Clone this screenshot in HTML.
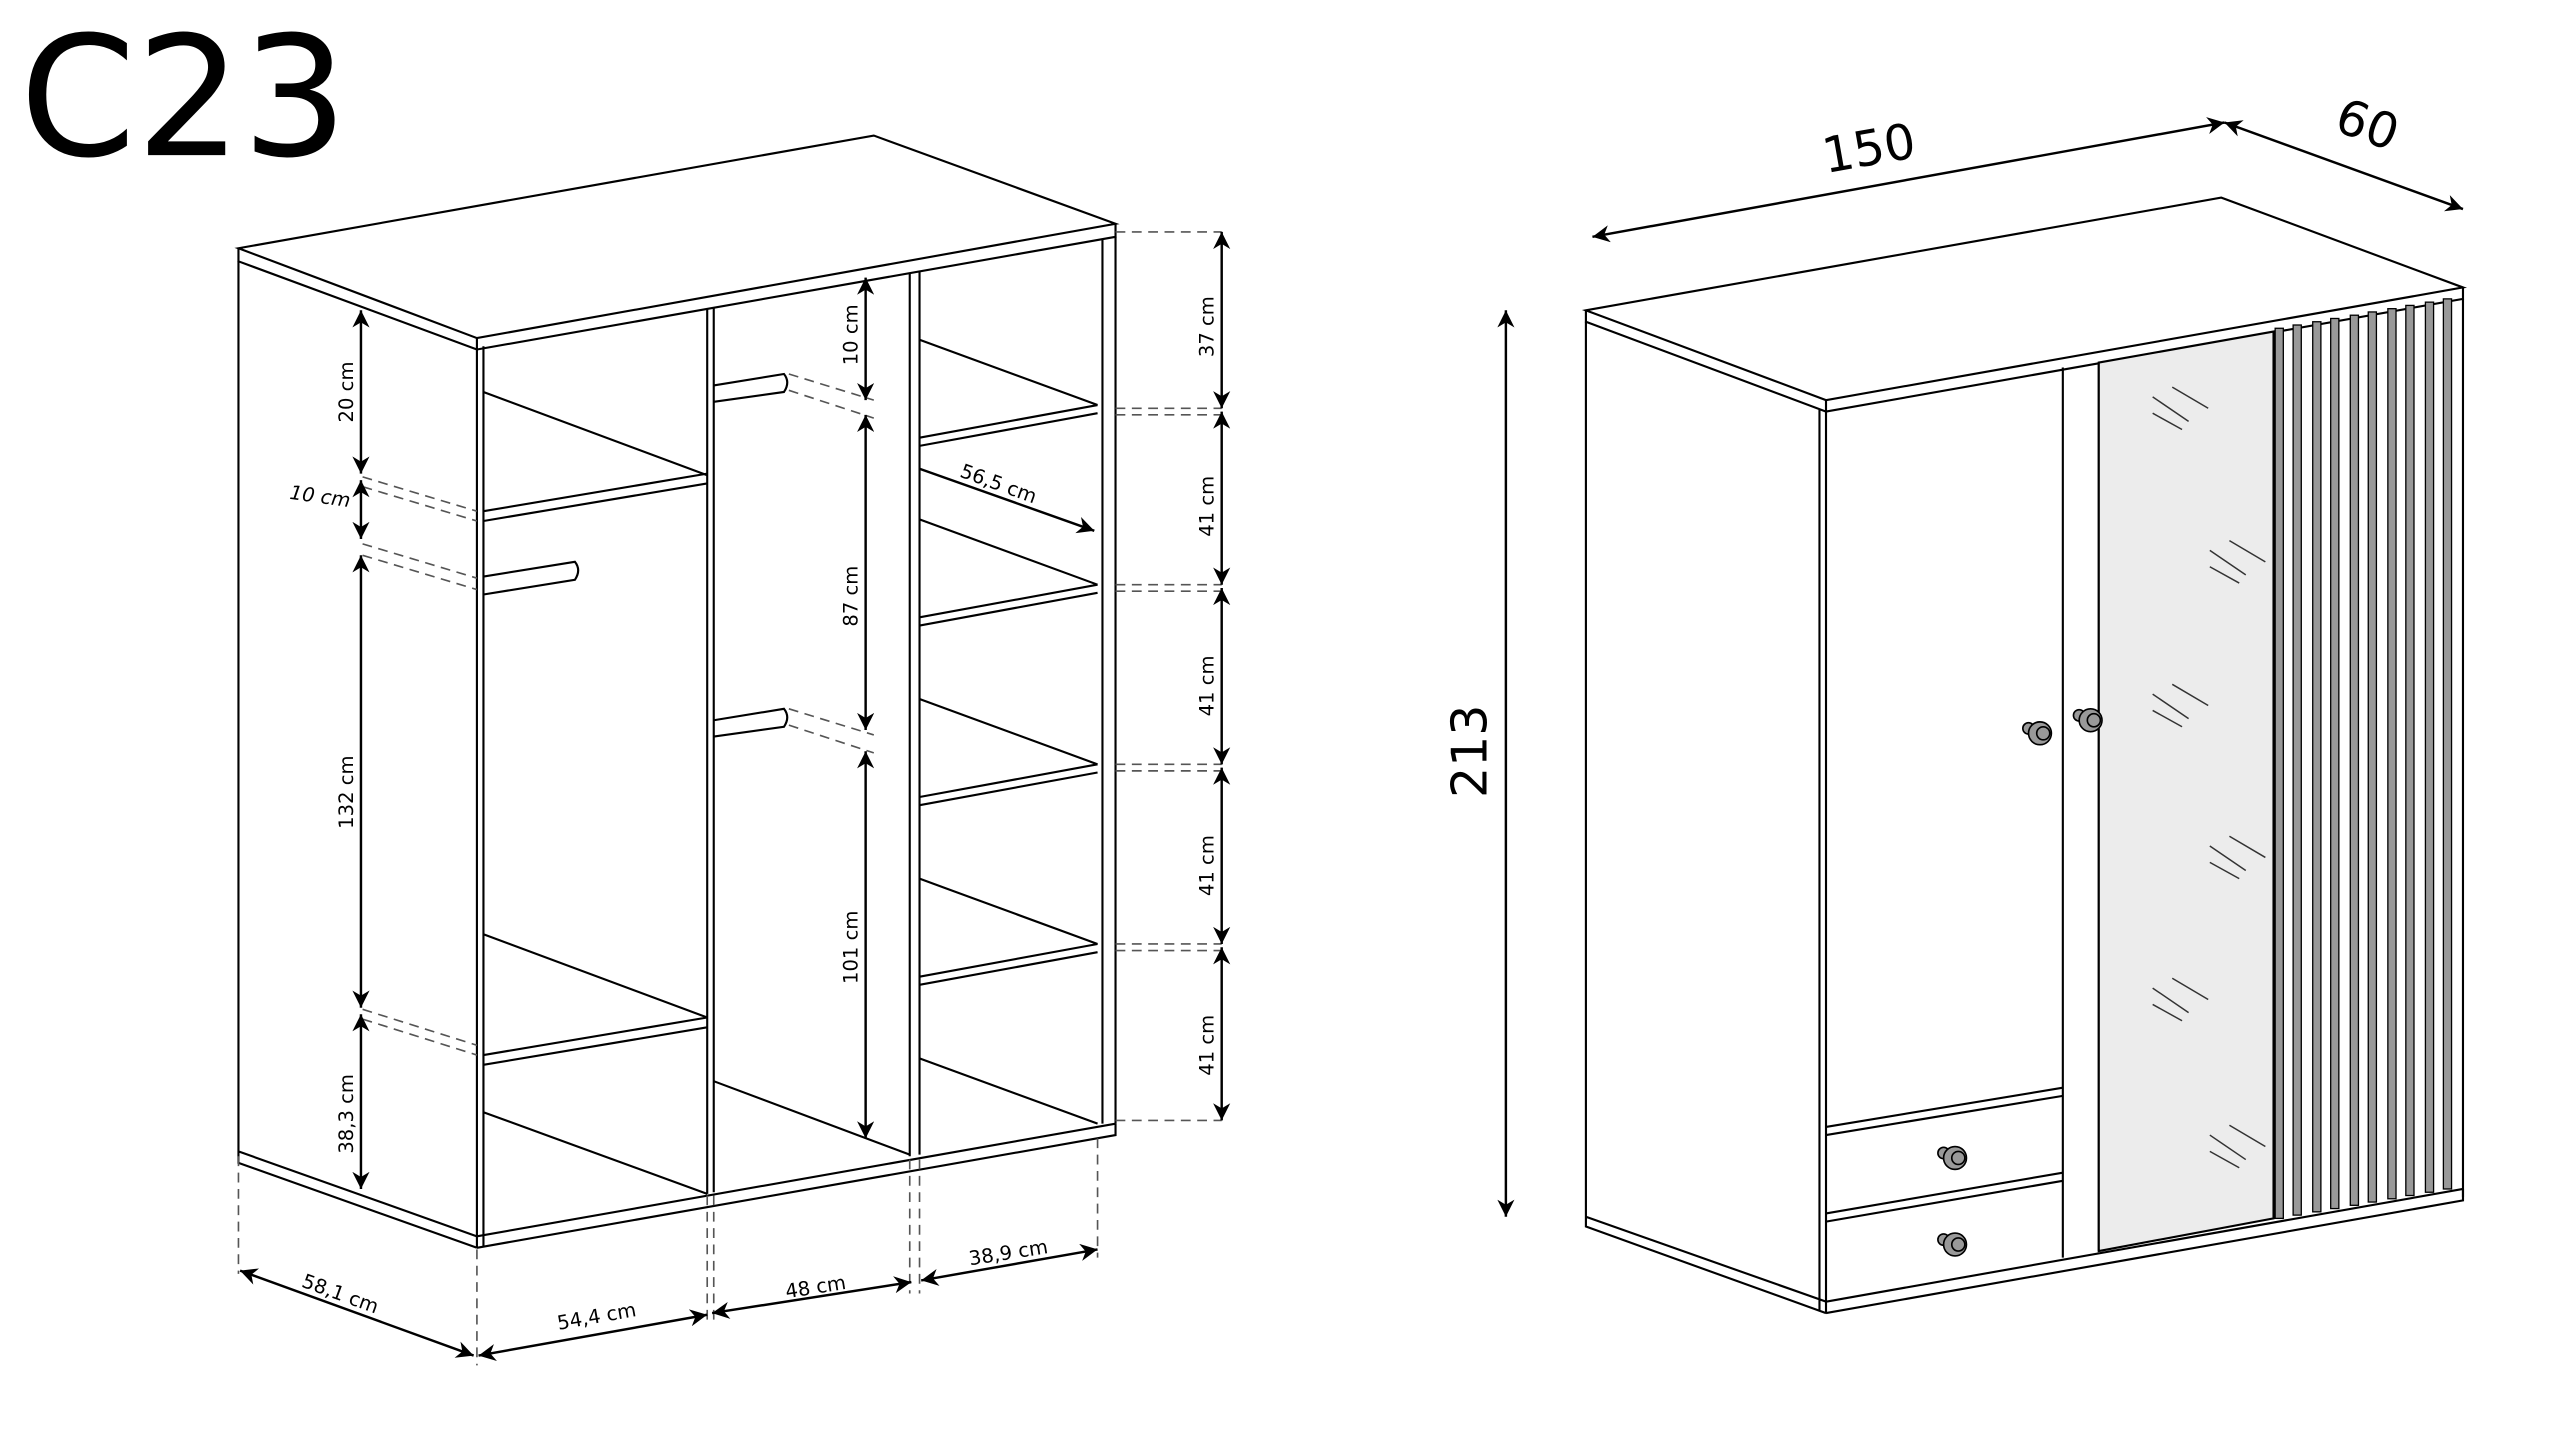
<!DOCTYPE html>
<html><head><meta charset="utf-8"><style>
html,body{margin:0;padding:0;background:#fff;width:2560px;height:1440px;overflow:hidden}
svg{display:block}
text{font-family:"DejaVu Sans","Liberation Sans",sans-serif;fill:#000}
</style></head><body>
<svg width="2560" height="1440" viewBox="0 0 1567.4 881.7" preserveAspectRatio="none" xmlns="http://www.w3.org/2000/svg">
<defs>
<marker id="a" viewBox="0 0 10 10" refX="10" refY="5" markerWidth="7" markerHeight="7" orient="auto-start-reverse"><path d="M0,0 L10,5 L0,10 L3,5 z" fill="#000"/></marker>
</defs>
<text x="12" y="95" font-size="102">C23</text>
<g fill="none" stroke="#000" stroke-width="1.3">
<polygon points="146,152 535,83 683,137 292,207" fill="#fff"/>
<path d="M146,152V160L292,214V207M292,214L683,145V137"/>
<path d="M146,160V705L292,757M146,705V712L292,764"/>
<path d="M292,214V764M296,212V763"/>
<path d="M675,146V688M683,145V688"/>
<path d="M292,757L683,688M292,764L683,695V688"/>
<path d="M433,189V731M437,188V730"/>
<path d="M557,167V708M563,166V707"/>
<path d="M296,313L433,290M296,319L433,296M296,240L433,291"/>
<path d="M296,646L433,623M296,652L433,629M296,572L433,623M296,681L433,731"/>
<path d="M437,662L557,707"/>
<path d="M563,268L672,248M563,273L672,253M563,208L672,248"/>
<path d="M563,378L672,358M563,383L672,363M563,318L672,358"/>
<path d="M563,488L672,468M563,493L672,473M563,428L672,468"/>
<path d="M563,598L672,578M563,603L672,583M563,538L672,578"/>
<path d="M563,648L672,688"/>
<path d="M296,353L352,344Q356,349 352,355L296,364" />
<path d="M437,236L480,229Q484,234 480,240L437,246"/>
<path d="M437,441L480,434Q484,439 480,445L437,451"/>
</g>
<g fill="none" stroke="#555" stroke-width="1" stroke-dasharray="6,4">
<path d="M222,292L292,313M222,298L292,319M222,333L292,354M222,340L292,361M222,618L292,640M222,624L292,646"/>
<path d="M483,229L535,245M483,239L535,256M483,434L535,450M483,444L535,461"/>
<path d="M683,142H748M683,250H748M683,254H748M683,358H748M683,362H748M683,468H748M683,472H748M683,578H748M683,582H748M683,686H748"/>
<path d="M146,708V780M292,765V836M433,732V812M437,732V812M557,710V792M563,710V792M672,697V770"/>
</g>
<g stroke="#000" stroke-width="1.5" marker-start="url(#a)" marker-end="url(#a)" fill="none">
<line x1="221" y1="190" x2="221" y2="290"/>
<line x1="221" y1="294" x2="221" y2="330"/>
<line x1="221" y1="340" x2="221" y2="617"/>
<line x1="221" y1="621" x2="221" y2="728"/>
<line x1="530" y1="170" x2="530" y2="245"/>
<line x1="530" y1="254" x2="530" y2="447"/>
<line x1="530" y1="460" x2="530" y2="697"/>
<line x1="748" y1="142" x2="748" y2="250"/>
<line x1="748" y1="252" x2="748" y2="358"/>
<line x1="748" y1="360" x2="748" y2="468"/>
<line x1="748" y1="470" x2="748" y2="578"/>
<line x1="748" y1="580" x2="748" y2="686"/>
<line x1="147" y1="778" x2="290" y2="830"/>
<line x1="293" y1="830" x2="433" y2="805"/>
<line x1="436" y1="804" x2="558" y2="785"/>
<line x1="564" y1="784" x2="672" y2="765"/>
<line x1="975" y1="145" x2="1362" y2="75"/>
<line x1="1362" y1="75" x2="1508" y2="128"/>
<line x1="922" y1="190" x2="922" y2="745"/>
</g>
<line x1="563" y1="287" x2="670" y2="325" stroke="#000" stroke-width="1.5" marker-end="url(#a)"/>
<g font-size="12">
<text transform="translate(216,240) rotate(-90)" text-anchor="middle">20 cm</text>
<text x="196" y="308" text-anchor="middle" font-style="italic" transform="rotate(8,196,304)">10 cm</text>
<text transform="translate(216,485) rotate(-90)" text-anchor="middle">132 cm</text>
<text transform="translate(216,682) rotate(-90)" text-anchor="middle">38,3 cm</text>
<text transform="translate(525,205) rotate(-90)" text-anchor="middle">10 cm</text>
<text transform="translate(525,365) rotate(-90)" text-anchor="middle">87 cm</text>
<text transform="translate(525,580) rotate(-90)" text-anchor="middle">101 cm</text>
<text transform="translate(743,200) rotate(-90)" text-anchor="middle">37 cm</text>
<text transform="translate(743,310) rotate(-90)" text-anchor="middle">41 cm</text>
<text transform="translate(743,420) rotate(-90)" text-anchor="middle">41 cm</text>
<text transform="translate(743,530) rotate(-90)" text-anchor="middle">41 cm</text>
<text transform="translate(743,640) rotate(-90)" text-anchor="middle">41 cm</text>
<text transform="translate(610,300) rotate(20)" text-anchor="middle">56,5 cm</text>
<text transform="translate(207,796) rotate(20)" text-anchor="middle">58,1 cm</text>
<text transform="translate(366,810) rotate(-10)" text-anchor="middle">54,4 cm</text>
<text transform="translate(500,792) rotate(-9)" text-anchor="middle">48 cm</text>
<text transform="translate(618,771) rotate(-9)" text-anchor="middle">38,9 cm</text>
</g>
<g font-size="30">
<text transform="translate(1146,101) rotate(-10)" text-anchor="middle">150</text>
<text transform="translate(1446,86) rotate(20)" text-anchor="middle">60</text>
<text transform="translate(910,460) rotate(-90)" text-anchor="middle">213</text>
</g>
<g fill="none" stroke="#000" stroke-width="1.3">
<polygon points="971,190 1360,121 1508,176 1118,245" fill="#fff"/>
<path d="M971,190V197L1118,252V245M1118,252L1508,183V176"/>
<path d="M971,197V745L1118,797M971,745V751L1118,804"/>
<path d="M1114,251V803M1118,252V804"/>
<path d="M1508,183V733"/>
<path d="M1118,797L1508,728M1118,804L1508,735V728"/>
<path d="M1263,225V770M1285,222V766"/>
<polygon points="1285,222 1392,203 1392,746 1285,766" fill="#ececec"/>
<path d="M1118,690L1263,666M1118,695L1263,671M1118,743L1263,718M1118,748L1263,723"/>
</g>
<g fill="#999" stroke="#000" stroke-width="0.8">
<rect x="1393" y="201" width="5" height="545"/>
<rect x="1404" y="199" width="5" height="545"/>
<rect x="1416" y="197" width="5" height="545"/>
<rect x="1427" y="195" width="5" height="545"/>
<rect x="1439" y="193" width="5" height="545"/>
<rect x="1450" y="191" width="5" height="545"/>
<rect x="1462" y="189" width="5" height="545"/>
<rect x="1473" y="187" width="5" height="545"/>
<rect x="1485" y="185" width="5" height="545"/>
<rect x="1496" y="183" width="5" height="545"/>
</g>
<g stroke="#333" stroke-width="0.9">
<path d="M1318,243L1340,258M1330,237L1352,250M1318,253L1336,263"/>
<path d="M1353,337L1375,352M1365,331L1387,344M1353,347L1371,357"/>
<path d="M1318,425L1340,440M1330,419L1352,432M1318,435L1336,445"/>
<path d="M1353,518L1375,533M1365,512L1387,525M1353,528L1371,538"/>
<path d="M1318,605L1340,620M1330,599L1352,612M1318,615L1336,625"/>
<path d="M1353,695L1375,710M1365,689L1387,702M1353,705L1371,715"/>
</g>
<g fill="#999" stroke="#000" stroke-width="1">
<circle cx="1242" cy="446" r="3.5"/><circle cx="1249" cy="449" r="7"/><circle cx="1251" cy="449" r="4"/>
<circle cx="1273" cy="438" r="3.5"/><circle cx="1280" cy="441" r="7"/><circle cx="1282" cy="441" r="4"/>
<circle cx="1190" cy="706" r="3.5"/><circle cx="1197" cy="709" r="7"/><circle cx="1199" cy="709" r="4"/>
<circle cx="1190" cy="759" r="3.5"/><circle cx="1197" cy="762" r="7"/><circle cx="1199" cy="762" r="4"/>
</g>
</svg>
</body></html>
